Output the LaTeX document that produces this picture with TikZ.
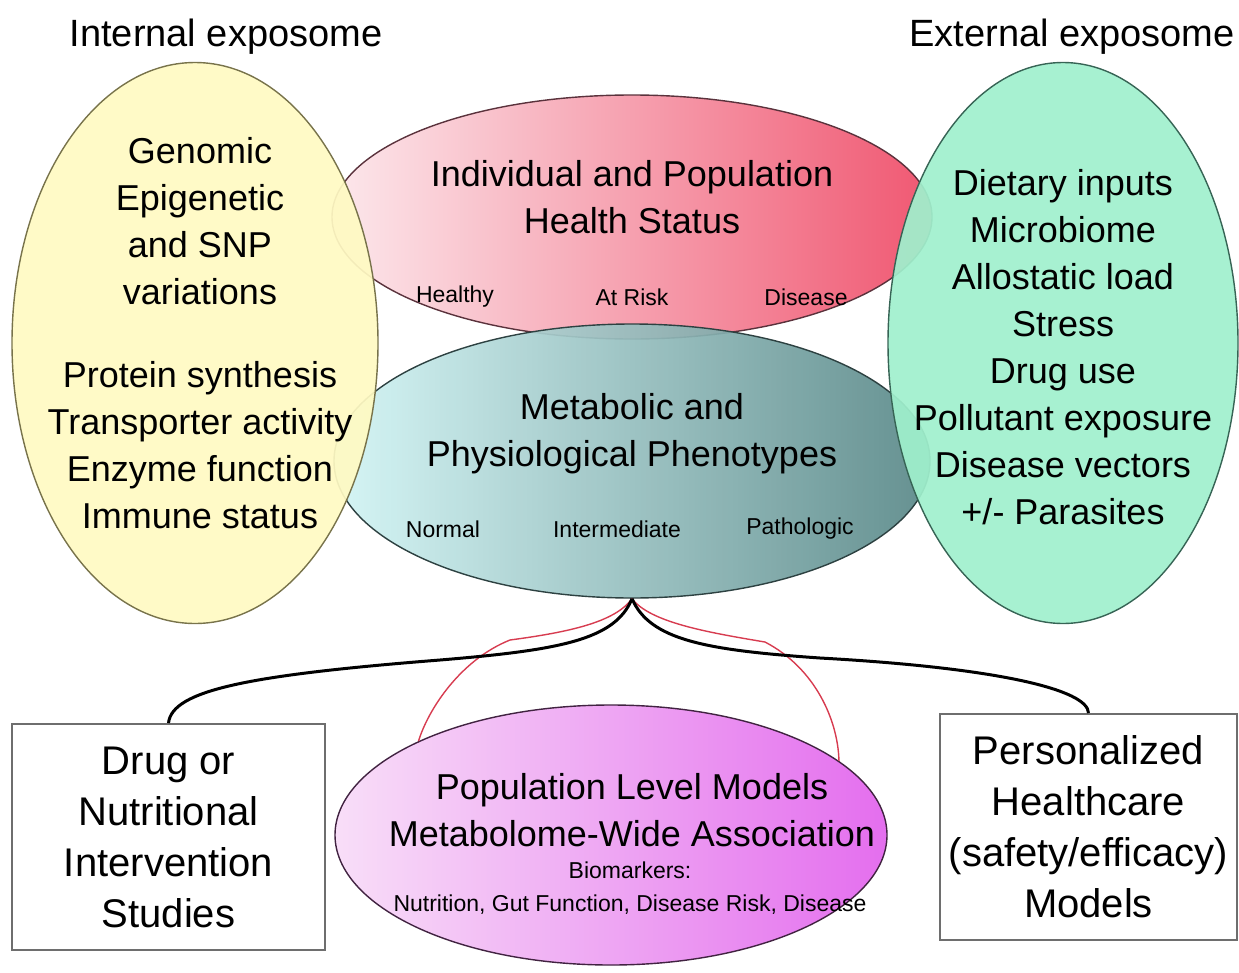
\documentclass[tikz,border=0pt]{standalone}
\usepackage{fontspec}
\setmainfont{Liberation Sans}
\usetikzlibrary{shapes.geometric}
\definecolor{pinkL}{RGB}{252,232,236}
\definecolor{pinkR}{RGB}{240,88,114}
\definecolor{pinkline}{RGB}{90,50,60}
\definecolor{tealL}{RGB}{210,245,245}
\definecolor{tealR}{RGB}{88,135,135}
\definecolor{tealline}{RGB}{45,65,65}
\definecolor{yellowfill}{RGB}{255,250,195}
\definecolor{yellowline}{RGB}{120,115,75}
\definecolor{greenfill}{RGB}{160,240,205}
\definecolor{greenline}{RGB}{55,100,85}
\definecolor{magL}{RGB}{248,222,248}
\definecolor{magR}{RGB}{228,110,238}
\definecolor{magline}{RGB}{65,35,65}
\definecolor{boxgray}{RGB}{110,110,110}
\definecolor{linkred}{RGB}{215,60,80}
\begin{document}
\begin{tikzpicture}[x=1pt,y=-1pt,
  blob/.style={ellipse,inner sep=0pt,line width=1.4pt},
  big/.style={font=\fontsize{36}{47}\selectfont,align=center},
  small/.style={font=\fontsize{23}{33}\selectfont,align=center},
  head/.style={font=\fontsize{38}{46}\selectfont},
  studybox/.style={draw=boxgray,line width=2pt,minimum height=226pt,inner sep=0pt,font=\fontsize{40}{51}\selectfont,align=center},
  link/.style={line width=3pt},
  redlink/.style={draw=linkred,line width=1.4pt}]
\useasboundingbox (0,0) rectangle (1239,972);
\node[head] (intl) at (226,37) {Internal exposome};
\node[head] (extl) at (1072,37) {External exposome};
\node[studybox,minimum width=313pt] (drug) at (168.5,837) {Drug or\\Nutritional\\Intervention\\Studies};
\node[studybox,minimum width=297pt] (personal) at (1088.5,827) {Personalized\\Healthcare\\(safety/efficacy)\\Models};
\node[blob,draw=pinkline,left color=pinkL,right color=pinkR,minimum width=600pt,minimum height=244pt] (health) at (632,217) {};
\node[blob,draw=tealline,left color=tealL,right color=tealR,fill opacity=0.92,minimum width=596pt,minimum height=274pt] (pheno) at (632,461) {};
\node[blob,draw=yellowline,fill=yellowfill,fill opacity=0.93,minimum width=366pt,minimum height=561pt] (internal) at (195,343) {};
\node[blob,draw=greenline,fill=greenfill,fill opacity=0.93,minimum width=350pt,minimum height=561pt] (external) at (1063,343) {};
\node[blob,draw=magline,left color=magL,right color=magR,minimum width=552pt,minimum height=260pt] (popmodel) at (611,835) {};
\node[big] (genome) at (200,221) {Genomic\\Epigenetic\\and SNP\\variations};
\node[big] (protein) at (200,445) {Protein synthesis\\Transporter activity\\Enzyme function\\Immune status};
\node[big] (inputs) at (1063,347) {Dietary inputs\\Microbiome\\Allostatic load\\Stress\\Drug use\\Pollutant exposure\\Disease vectors\\+/- Parasites};
\node[big] (status) at (632,197) {Individual and Population\\Health Status};
\node[small] (healthy) at (455,297) {Healthy};
\node[small] (risk) at (632,297) {At Risk};
\node[small] (disease) at (806,297) {Disease};
\node[big] (phenotypes) at (632,434) {Metabolic and\\Physiological Phenotypes};
\node[small] (normal) at (443,529) {Normal};
\node[small] (inter) at (617,529) {Intermediate};
\node[small] (patho) at (800,529) {Pathologic};
\node[big] (models) at (632,810) {Population Level Models\\Metabolome-Wide Association};
\node[small] (markers) at (630,888) {Biomarkers:\\Nutrition, Gut Function, Disease Risk, Disease};
\draw[redlink] (pheno.south) .. controls (615,622) and (570,632) .. (510,640) .. controls (460,660) and (428,710) .. (popmodel.154);
\draw[redlink] (pheno.south) .. controls (650,622) and (705,632) .. (765,642) .. controls (815,668) and (838,720) .. (popmodel.18);
\draw[link] (pheno.south) .. controls (615,640) and (560,650) .. (440,660) .. controls (250,675) and (172,690) .. (drug.north);
\draw[link] (pheno.south) .. controls (650,640) and (705,650) .. (820,658) .. controls (1000,668) and (1088,690) .. (personal.north);
\end{tikzpicture}
\end{document}
